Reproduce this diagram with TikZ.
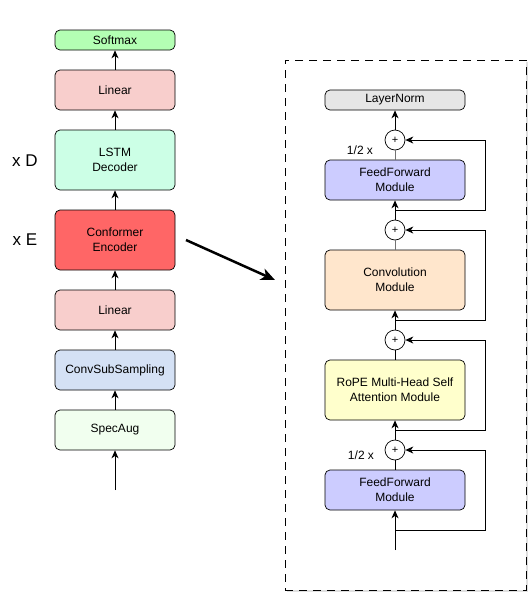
\documentclass[tikz,border=0pt]{standalone}
\usepackage{fontspec}
\setmainfont{Liberation Sans}
\usetikzlibrary{arrows.meta,positioning}
\definecolor{cSoft}{HTML}{B3FFB3}
\definecolor{cLin}{HTML}{F8CECC}
\definecolor{cLSTM}{HTML}{CCFFE6}
\definecolor{cConf}{HTML}{FF6666}
\definecolor{cConv}{HTML}{D4E1F5}
\definecolor{cSpec}{HTML}{F1FFEF}
\definecolor{cLN}{HTML}{E6E6E6}
\definecolor{cFF}{HTML}{CCCCFF}
\definecolor{cCM}{HTML}{FFE6CC}
\definecolor{cRoPE}{HTML}{FFFFCC}
\tikzset{
  blk/.style={draw=black, rounded corners=5pt, line width=0.7pt, align=center,
    font=\fontsize{12}{15}\selectfont, inner sep=0pt},
  lbox/.style={blk, minimum width=120pt},
  rbox/.style={blk, minimum width=140pt},
  plus/.style={draw=black, circle, fill=white, minimum size=20pt, inner sep=0pt,
    font=\fontsize{11}{11}\selectfont, line width=0.7pt},
  arr/.style={-{Stealth[length=8pt,width=7pt,inset=2.5pt]}, line width=0.8pt},
  ln/.style={line width=0.8pt},
}
\begin{document}
\begin{tikzpicture}[x=1pt,y=-1pt]
\useasboundingbox (0,0) rectangle (532,598);
% left column
\node[lbox, fill=cSoft, minimum height=20pt] (soft) at (115,40) {Softmax};
\node[lbox, fill=cLin, minimum height=40pt] (lin1) at (115,90) {Linear};
\node[lbox, fill=cLSTM, minimum height=60pt] (lstm) at (115,160) {LSTM\\Decoder};
\node[lbox, fill=cConf, minimum height=60pt] (conf) at (115,240) {Conformer\\Encoder};
\node[lbox, fill=cLin, minimum height=40pt] (lin2) at (115,310) {Linear};
\node[lbox, fill=cConv, minimum height=40pt] (csub) at (115,370) {ConvSubSampling};
\node[lbox, fill=cSpec, minimum height=40pt] (spec) at (115,430) {SpecAug};
\coordinate (inL) at (115,490);
\node[font=\fontsize{17}{17}\selectfont] (xD) at (25,161) {x D};
\node[font=\fontsize{17}{17}\selectfont] (xE) at (25,240) {x E};
\draw[arr] (inL) -- (spec);
\draw[arr] (spec) -- (csub);
\draw[arr] (csub) -- (lin2);
\draw[arr] (lin2) -- (conf);
\draw[arr] (conf) -- (lstm);
\draw[arr] (lstm) -- (lin1);
\draw[arr] (lin1) -- (soft);
% big arrow
\coordinate (ba1) at (186,240);
\coordinate (ba2) at (275,280);
\draw[-{Stealth[length=14pt,width=12pt,inset=4pt]}, line width=2.5pt] (ba1) -- (ba2);
% dashed container
\fill[black!12] (287,62) rectangle (528,592);
\node[draw=black, dashed, dash pattern=on 8pt off 6pt, fill=white, line width=0.8pt,
  minimum width=241pt, minimum height=530pt, inner sep=0pt] (cont) at (405.5,325) {};
% right column
\node[rbox, fill=cLN, minimum height=20pt] (ln) at (395,100) {LayerNorm};
\node[plus] (p1) at (395,140) {+};
\node[rbox, fill=cFF, minimum height=40pt] (ff1) at (395,180) {FeedForward\\Module};
\node[plus] (p2) at (395,230) {+};
\node[rbox, fill=cCM, minimum height=60pt] (cm) at (395,280) {Convolution\\Module};
\node[plus] (p3) at (395,340) {+};
\node[rbox, fill=cRoPE, minimum height=60pt] (rope) at (395,390) {RoPE Multi-Head Self\\Attention Module};
\node[plus] (p4) at (395,450) {+};
\node[rbox, fill=cFF, minimum height=40pt] (ff2) at (395,490) {FeedForward\\Module};
\coordinate (inR) at (395,550);
\node[font=\fontsize{12}{12}\selectfont] (h1) at (360,150) {1/2 x};
\node[font=\fontsize{12}{12}\selectfont] (h2) at (361,455) {1/2 x};
% main path
\draw[arr] (inR) -- (ff2);
\draw[ln] (ff2) -- (p4);
\draw[arr] (p4) -- (rope);
\draw[ln] (rope) -- (p3);
\draw[arr] (p3) -- (cm);
\draw[ln, black!55] (cm) -- (p2);
\draw[arr] (p2) -- (ff1);
\draw[ln, black!55] (ff1) -- (p1);
\draw[arr] (p1) -- (ln);
% residuals
\coordinate (r4) at (395,530);
\coordinate (r3) at (395,430);
\coordinate (r2) at (395,320);
\coordinate (r1) at (395,210);
\draw[arr] (r4) -- (485,530) -- (485,450) -- (p4);
\draw[arr] (r3) -- (485,430) -- (485,340) -- (p3);
\draw[arr] (r2) -- (485,320) -- (485,230) -- (p2);
\draw[arr] (r1) -- (485,210) -- (485,140) -- (p1);
\end{tikzpicture}
\end{document}
